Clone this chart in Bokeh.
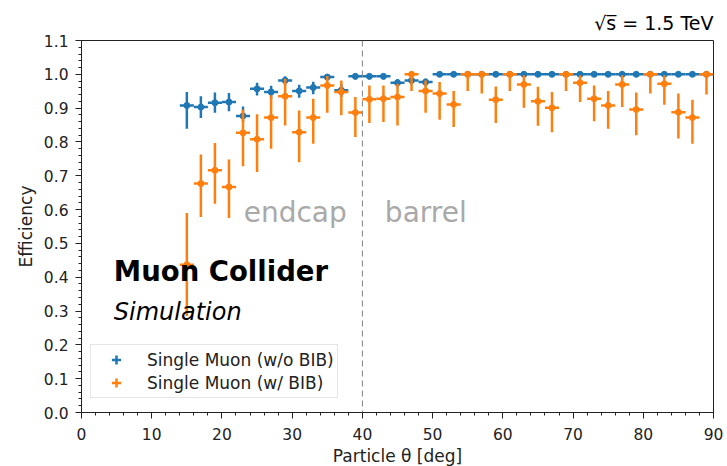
import numpy as np
from bokeh.plotting import figure
from bokeh.models import (Range1d, FixedTicker, PrintfTickFormatter, Span, Label,
                          Legend, LegendItem, ColumnDataSource, Title)
from bokeh.embed import file_html
from bokeh.resources import INLINE

# ---------------- data ----------------
theta = list(range(15, 90, 2))          # bin centres [deg], bin width 2 deg
bin_half_width = 1.0

eff_nobib = [0.908, 0.903, 0.916, 0.918, 0.877, 0.957, 0.948, 0.982, 0.951, 0.961,
             0.992, 0.953, 0.994, 0.994, 0.994, 0.975, 0.982, 0.977,
             1.0, 1.0, 1.0, 1.0, 1.0, 1.0, 1.0, 1.0, 1.0, 1.0,
             1.0, 1.0, 1.0, 1.0, 1.0, 1.0, 1.0, 1.0, 1.0, 1.0]
eff_nobib_lo = [0.839, 0.871, 0.886, 0.891, 0.859, 0.937, 0.928, 0.968, 0.931, 0.941,
                0.982, 0.933, 0.985, 0.985, 0.985, 0.962, 0.970, 0.964,
                0.992, 0.992, 0.992, 0.992, 0.992, 0.992, 0.992, 0.992, 0.992, 0.992,
                0.992, 0.992, 0.992, 0.992, 0.992, 0.992, 0.992, 0.992, 0.992, 0.992]
eff_nobib_hi = [0.948, 0.935, 0.946, 0.945, 0.905, 0.975, 0.966, 0.994, 0.969, 0.978,
                1.0, 0.971, 1.0, 1.0, 1.0, 0.986, 0.992, 0.988,
                1.0, 1.0, 1.0, 1.0, 1.0, 1.0, 1.0, 1.0, 1.0, 1.0,
                1.0, 1.0, 1.0, 1.0, 1.0, 1.0, 1.0, 1.0, 1.0, 1.0]

eff_bib = [0.437, 0.677, 0.716, 0.667, 0.827, 0.808, 0.872, 0.935, 0.829, 0.872,
           0.967, 0.948, 0.887, 0.926, 0.928, 0.933, 1.0, 0.951, 0.943, 0.911,
           1.0, 1.0, 0.925, 1.0, 0.970, 0.920, 0.901, 1.0, 0.975, 0.928,
           0.908, 0.970, 0.896, 1.0, 0.972, 0.888, 0.872, 1.0]
eff_bib_lo = [0.285, 0.578, 0.617, 0.575, 0.728, 0.711, 0.780, 0.849, 0.740, 0.795,
              0.886, 0.879, 0.815, 0.856, 0.859, 0.849, 0.951, 0.886, 0.866, 0.844,
              0.951, 0.943, 0.856, 0.951, 0.901, 0.848, 0.829, 0.951, 0.918, 0.861,
              0.839, 0.903, 0.820, 0.943, 0.910, 0.810, 0.795, 0.940]
eff_bib_hi = [0.590, 0.763, 0.797, 0.748, 0.896, 0.882, 0.938, 0.987, 0.893, 0.928,
              0.995, 0.982, 0.933, 0.967, 0.967, 0.972, 1.0, 0.982, 0.977, 0.951,
              1.0, 1.0, 0.964, 1.0, 0.997, 0.963, 0.948, 1.0, 0.997, 0.967,
              0.951, 0.997, 0.946, 1.0, 0.997, 0.943, 0.925, 1.0]

label_nobib = "Single Muon (w/o BIB)"
label_bib = "Single Muon (w/ BIB)"
energy_text = "√s̅ = 1.5 TeV"
x_ticks = list(range(0, 91, 10))
y_ticks = [round(0.1 * i, 1) for i in range(12)]
barrel_boundary = 40

BLUE = "#1f77b4"
ORANGE = "#ff7f0e"
FONT = "DejaVu Sans"
DARK = "#222222"

title = Title(text=energy_text, align="right", text_font=FONT, text_font_size="19px",
              text_font_style="normal", text_color="black", standoff=13)

p = figure(frame_width=632, frame_height=372, x_range=Range1d(0, 90), y_range=Range1d(0, 1.1),
           output_backend="svg", toolbar_location=None, title=title,
           min_border_left=81, min_border_right=14, min_border_top=40, min_border_bottom=54)
p.xgrid.visible = False
p.ygrid.visible = False
p.outline_line_color = DARK
p.outline_line_width = 1
p.outline_line_alpha = 1.0
p.background_fill_color = "white"
p.border_fill_color = "white"

# axes
p.xaxis.ticker = FixedTicker(ticks=x_ticks, minor_ticks=list(np.arange(0, 90.01, 2)))
p.yaxis.ticker = FixedTicker(ticks=y_ticks, minor_ticks=list(np.round(np.arange(0, 1.1001, 0.02), 3)))
p.yaxis.formatter = PrintfTickFormatter(format="%.1f")
for ax in (p.xaxis, p.yaxis):
    ax.axis_line_color = DARK
    ax.major_tick_line_color = DARK
    ax.minor_tick_line_color = DARK
    ax.major_tick_out = 6
    ax.major_tick_in = 0
    ax.minor_tick_out = 3
    ax.minor_tick_in = 0
    ax.major_label_text_font = FONT
    ax.major_label_text_font_size = "15.5px"
    ax.major_label_text_color = DARK
    ax.axis_label_text_font = FONT
    ax.axis_label_text_font_size = "17px"
    ax.axis_label_text_font_style = "normal"
    ax.axis_label_text_color = DARK
p.xaxis.major_label_standoff = 9
p.yaxis.major_label_standoff = 7
p.xaxis.axis_label = "Particle θ [deg]"
p.yaxis.axis_label = "Efficiency"
p.xaxis.axis_label_standoff = 3
p.yaxis.axis_label_standoff = 5

# barrel/endcap boundary
p.add_layout(Span(location=barrel_boundary, dimension="height", line_color="#808080",
                  line_width=1, line_dash="6 4"))


def draw_series(eff, lo, hi, color):
    src = ColumnDataSource(dict(
        x=theta, y=eff, lo=lo, hi=hi,
        xl=[t - bin_half_width for t in theta], xr=[t + bin_half_width for t in theta]))
    p.segment(x0="x", y0="lo", x1="x", y1="hi", source=src, line_color=color, line_width=2.5)
    p.segment(x0="xl", y0="y", x1="xr", y1="y", source=src, line_color=color, line_width=2.5)
    p.scatter(x="x", y="y", source=src, size=6, fill_color=color, line_color=color)
    # zero-size cross markers: invisible on the plot, used only as legend glyph
    proxy = p.scatter(x="x", y="y", source=src, marker="cross", size=0,
                      line_color=color, line_width=2.5)
    return proxy


leg_b = draw_series(eff_nobib, eff_nobib_lo, eff_nobib_hi, BLUE)
leg_o = draw_series(eff_bib, eff_bib_lo, eff_bib_hi, ORANGE)

legend = Legend(items=[LegendItem(label=label_nobib, renderers=[leg_b], index=0),
                       LegendItem(label=label_bib, renderers=[leg_o], index=0)],
                location=(9, 14), glyph_width=44, glyph_height=23, spacing=0,
                padding=3, margin=0, label_standoff=9, label_height=20,
                label_text_font=FONT, label_text_font_size="17px", label_text_color=DARK,
                border_line_color="#cccccc", border_line_width=1,
                background_fill_color="white", background_fill_alpha=0.8)
p.add_layout(legend)

# annotations
p.add_layout(Label(x=23.1, y=0.542, text="endcap", text_font=FONT, text_font_size="28px",
                   text_color="#a9a9a9"))
p.add_layout(Label(x=43.2, y=0.542, text="barrel", text_font=FONT, text_font_size="28px",
                   text_color="#a9a9a9"))
p.add_layout(Label(x=4.6, y=0.37, text="Muon Collider", text_font=FONT, text_font_size="27.5px",
                   text_font_style="bold", text_color="black"))
p.add_layout(Label(x=4.6, y=0.257, text="Simulation", text_font=FONT, text_font_size="24px",
                   text_font_style="italic", text_color="black"))

open("out.html", "w").write(file_html(p, INLINE))
